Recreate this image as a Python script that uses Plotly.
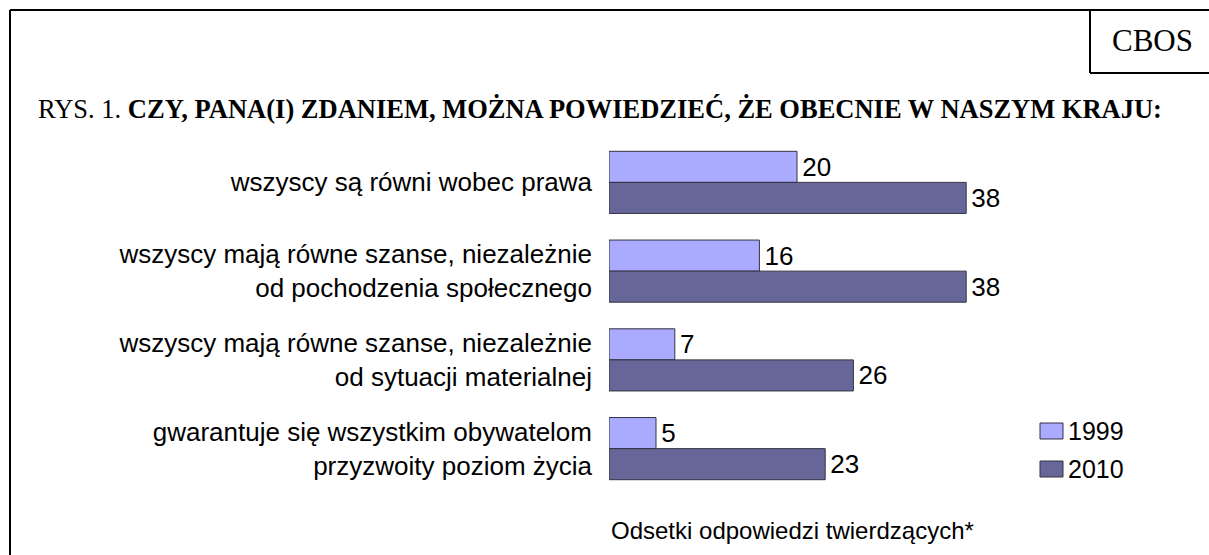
import plotly.graph_objects as go

categories = [
    "wszyscy są równi wobec prawa",
    "wszyscy mają równe szanse, niezależnie<br>od pochodzenia społecznego",
    "wszyscy mają równe szanse, niezależnie<br>od sytuacji materialnej",
    "gwarantuje się wszystkim obywatelom<br>przyzwoity poziom życia",
]
series_names = ["1999", "2010"]
values_1999 = [20, 16, 7, 5]
values_2010 = [38, 38, 26, 23]
colors = ["#AAAAFF", "#666699"]

W, H = 1209, 555
L, R, T, B = 609, 179, 138, 62
PW, PH = W - L - R, H - T - B


def px(x):
    return (x - L) / PW


def py(y):
    return ((H - B) - y) / PH


fig = go.Figure()
for name, vals, col in zip(series_names, [values_1999, values_2010], colors):
    fig.add_trace(go.Bar(
        y=categories, x=vals, name=name, orientation="h",
        marker=dict(color=col, line=dict(color="#333344", width=1)),
        text=["\u200a" + str(v) for v in vals], textposition="outside",
        textfont=dict(family="Liberation Sans, Arial", size=26, color="black"),
        cliponaxis=False, constraintext="none", showlegend=False,
        hoverinfo="skip",
    ))

shapes = []
line = dict(color="black", width=2)
# outer frame
shapes.append(dict(type="line", xref="paper", yref="paper", x0=px(10), x1=px(1215), y0=py(10), y1=py(10), line=line))
shapes.append(dict(type="line", xref="paper", yref="paper", x0=px(10), x1=px(10), y0=py(10), y1=py(560), line=line))
# CBOS box
shapes.append(dict(type="line", xref="paper", yref="paper", x0=px(1090), x1=px(1090), y0=py(10), y1=py(73), line=line))
shapes.append(dict(type="line", xref="paper", yref="paper", x0=px(1090), x1=px(1215), y0=py(73), y1=py(73), line=line))

annotations = []
# legend (manual)
leg_y = [431, 469]
for name, col, yc in zip(series_names, colors, leg_y):
    shapes.append(dict(type="rect", xref="paper", yref="paper",
                       x0=px(1040), x1=px(1063), y0=py(yc - 8), y1=py(yc + 8),
                       fillcolor=col, line=dict(color="#333344", width=1)))
    annotations.append(dict(text=name, xref="paper", yref="paper", x=px(1066), y=py(yc),
                            xanchor="left", yanchor="middle", showarrow=False,
                            font=dict(family="Liberation Sans, Arial", size=25, color="black")))

annotations.append(dict(text="CBOS", xref="paper", yref="paper", x=px(1152), y=py(41),
                        xanchor="center", yanchor="middle", showarrow=False,
                        font=dict(family="Liberation Serif, Times New Roman", size=31, color="black")))
annotations.append(dict(
    text="RYS. 1. <b>CZY, PANA(I) ZDANIEM, MOŻNA POWIEDZIEĆ, ŻE OBECNIE W NASZYM KRAJU:</b>",
    xref="paper", yref="paper", x=px(36), y=py(109), xanchor="left", yanchor="middle",
    showarrow=False, font=dict(family="Liberation Serif, Times New Roman", size=26.5, color="black")))
annotations.append(dict(
    text="Odsetki odpowiedzi twierdzących*", xref="paper", yref="paper", x=px(609), y=py(530),
    xanchor="left", yanchor="middle", showarrow=False,
    font=dict(family="Liberation Sans, Arial", size=24, color="black")))

fig.update_layout(
    width=W, height=H, margin=dict(l=L, r=R, t=T, b=B, pad=0),
    paper_bgcolor="white", plot_bgcolor="white",
    barmode="group", bargap=0.30, bargroupgap=0,
    shapes=shapes, annotations=annotations,
    xaxis=dict(range=[0, PW / 9.4], visible=False, showgrid=False, zeroline=False, fixedrange=True),
    yaxis=dict(autorange="reversed", showgrid=False, zeroline=False, showline=False,
               ticks="", ticklabelstandoff=16, fixedrange=True,
               tickfont=dict(family="Liberation Sans, Arial", size=26, color="black")),
)
fig.write_html("out.html", config={"displayModeBar": False},
               post_script="document.body.style.margin='0';document.body.style.overflow='hidden';")
